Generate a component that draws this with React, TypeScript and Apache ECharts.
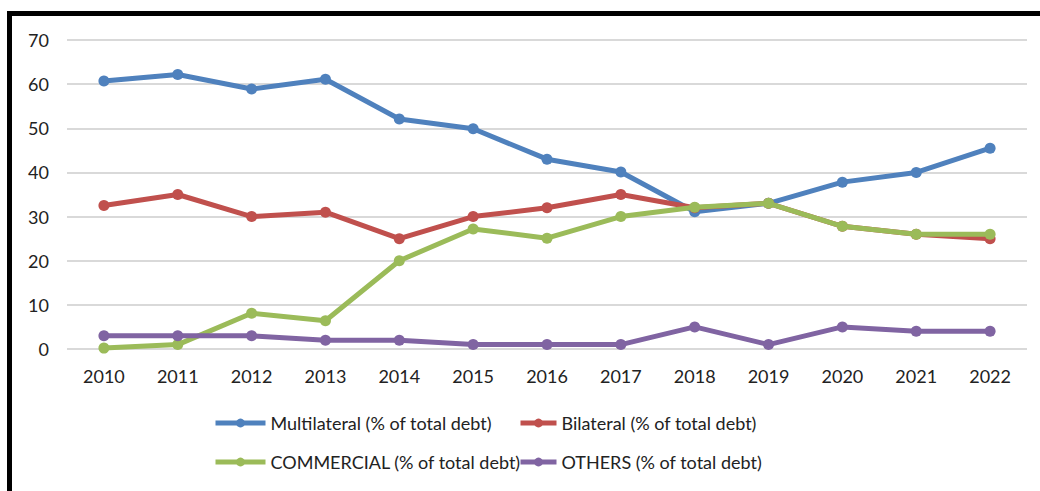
import React, { useEffect, useRef } from "react";
import * as echarts from "echarts";

const years = ["2010", "2011", "2012", "2013", "2014", "2015", "2016", "2017", "2018", "2019", "2020", "2021", "2022"];
const multilateral = [60.7, 62.2, 58.9, 61.1, 52.1, 49.9, 43.0, 40.1, 31.1, 33.0, 37.8, 40.0, 45.5];
const bilateral = [32.5, 35.0, 30.0, 31.0, 25.0, 30.0, 32.0, 35.0, 32.0, 33.0, 27.8, 26.0, 25.0];
const commercial = [0.2, 1.0, 8.1, 6.4, 20.0, 27.2, 25.1, 30.0, 32.1, 33.0, 27.8, 26.0, 26.0];
const others = [3, 3, 3, 2, 2, 1, 1, 1, 5, 1, 5, 4, 4];

const names = [
  "Multilateral (% of total debt)",
  "Bilateral (% of total debt)",
  "COMMERCIAL (% of total debt)",
  "OTHERS (% of total debt)",
];
const colors = ["#4F81BD", "#C0504D", "#9BBB59", "#8064A2"];
const values = [multilateral, bilateral, commercial, others];

const FONT = "Lato, 'Open Sans', sans-serif";

export default function App() {
  const ref = useRef<HTMLDivElement>(null);

  useEffect(() => {
    if (!ref.current) return;
    const chart = echarts.init(ref.current, undefined, { renderer: "svg" });

    // one legend block per entry so the two rows line up in columns
    const legendPos = [
      { left: 213, top: 414, w: 50 },
      { left: 518, top: 414, w: 36 },
      { left: 213, top: 453, w: 50 },
      { left: 518, top: 453, w: 36 },
    ];

    chart.setOption({
      animation: false,
      backgroundColor: "#ffffff",
      textStyle: { fontFamily: FONT },
      grid: { left: 67, right: 13, top: 40, bottom: 142, containLabel: false },
      legend: legendPos.map((p, i) => ({
        data: [names[i]],
        left: p.left,
        top: p.top,
        padding: 0,
        itemWidth: p.w,
        itemHeight: 11,
        lineStyle: { width: 5 },
        textStyle: { fontSize: 18, color: "#222", fontFamily: FONT },
        selectedMode: false,
      })),
      xAxis: {
        type: "category",
        data: years,
        boundaryGap: true,
        axisLine: { show: false },
        axisTick: { show: false },
        axisLabel: { fontSize: 18, color: "#222", margin: 18, fontFamily: FONT },
      },
      yAxis: {
        type: "value",
        min: 0,
        max: 70,
        interval: 10,
        axisLine: { show: false },
        axisTick: { show: false },
        axisLabel: { fontSize: 18, color: "#222", margin: 18, fontFamily: FONT },
        splitLine: { lineStyle: { color: "#d9d9d9", width: 2 } },
      },
      series: values.map((v, i) => ({
        name: names[i],
        type: "line",
        data: v,
        symbol: "circle",
        symbolSize: 11,
        itemStyle: { color: colors[i] },
        lineStyle: { color: colors[i], width: 5 },
        z: 2 + i,
      })),
      graphic: [
        {
          type: "polyline",
          shape: { points: [[9.5, 495], [9.5, 13.5], [1045, 13.5]] },
          style: { stroke: "#000", lineWidth: 5, fill: "none" },
          z: 100,
        },
      ],
    });

    return () => chart.dispose();
  }, []);

  return (
    <div
      ref={ref}
      style={{ position: "fixed", left: 0, top: 0, width: 1040, height: 491 }}
    />
  );
}
